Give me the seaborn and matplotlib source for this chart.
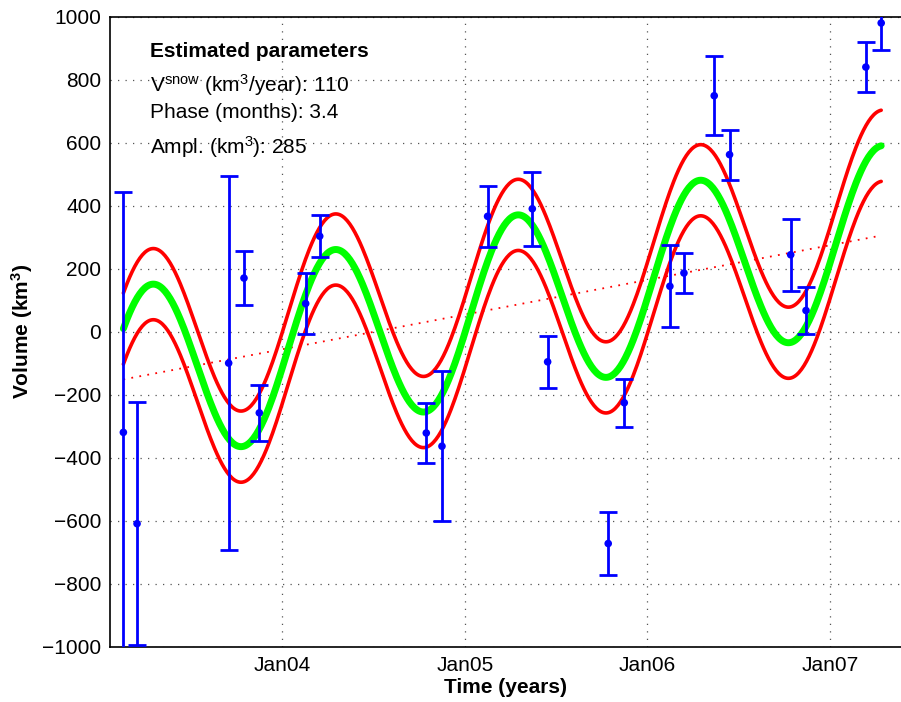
import numpy as np
import pandas as pd
import matplotlib
matplotlib.use("Agg")
import matplotlib.pyplot as plt
import seaborn as sns

# ---------------- data ----------------
obs_time = [2003.129, 2003.204, 2003.706, 2003.790, 2003.874, 2004.128, 2004.205,
            2004.789, 2004.875, 2005.125, 2005.370, 2005.454, 2005.786, 2005.874,
            2006.124, 2006.201, 2006.367, 2006.451, 2006.786, 2006.870, 2007.198,
            2007.282]
obs_volume = [-320, -610, -100, 170, -258, 89, 303,
              -322, -364, 366, 390, -96, -673, -226,
              144, 186, 749, 562, 244, 67, 840,
              980]
obs_error = [764, 385, 593, 87, 88, 96, 67,
             94, 239, 96, 117, 82, 99, 76,
             130, 63, 126, 79, 115, 76, 80,
             85]

# Estimated model parameters (shown on the chart)
V_SNOW = 110          # km3/year
PHASE_MONTHS = 3.4    # months
AMPL = 285            # km3
OFFSET_JAN05 = 54     # trend value at Jan05
BAND = 113            # half-width of red envelope

tick_years = [2004, 2005, 2006, 2007]
tick_labels = ["Jan04", "Jan05", "Jan06", "Jan07"]
y_ticks = list(range(-1000, 1001, 200))

# ---------------- model curves from the stated parameters ----------------
t = np.linspace(obs_time[0], obs_time[-1], 600)
trend = OFFSET_JAN05 + V_SNOW * (t - 2005.0)
fit = trend + AMPL * np.cos(2 * np.pi * (t - PHASE_MONTHS / 12.0))
curves = pd.DataFrame({"t": t, "trend": trend, "fit": fit,
                       "upper": fit + BAND, "lower": fit - BAND})
obs = pd.DataFrame({"t": obs_time, "v": obs_volume, "e": obs_error})

# ---------------- style ----------------
sns.set_theme(style="white")
plt.rcParams["font.family"] = ["Liberation Sans", "DejaVu Sans"]
plt.rcParams["mathtext.fontset"] = "custom"
plt.rcParams["mathtext.rm"] = "Liberation Sans"
plt.rcParams["mathtext.it"] = "Liberation Sans:italic"
plt.rcParams["mathtext.bf"] = "Liberation Sans:bold"
plt.rcParams["mathtext.default"] = "regular"
plt.rcParams["text.color"] = "black"
plt.rcParams["axes.labelcolor"] = "black"
plt.rcParams["xtick.color"] = "black"
plt.rcParams["ytick.color"] = "black"

FS = 15
fig = plt.figure(figsize=(9.01, 7.02), dpi=100)
W, H = 901, 702
left_px, right_px, top_px, bot_px = 109.5, 902.0, 16.7, 646.5
ax = fig.add_axes([left_px / W, 1 - bot_px / H, (right_px - left_px) / W,
                   (bot_px - top_px) / H])

sns.lineplot(data=curves, x="t", y="trend", ax=ax, color=(1, 0, 0),
             linewidth=1.3, linestyle=(0, (1, 3.5)), zorder=2)
sns.lineplot(data=curves, x="t", y="upper", ax=ax, color=(1, 0, 0),
             linewidth=2.6, zorder=3)
sns.lineplot(data=curves, x="t", y="lower", ax=ax, color=(1, 0, 0),
             linewidth=2.6, zorder=3)
sns.lineplot(data=curves, x="t", y="fit", ax=ax, color=(0, 1, 0),
             linewidth=5.0, zorder=4)

ax.errorbar(obs["t"], obs["v"], yerr=obs["e"], fmt="none", ecolor=(0, 0, 1),
            elinewidth=2.0, capsize=6.5, capthick=2.0, zorder=5)
sns.scatterplot(data=obs, x="t", y="v", ax=ax, color=(0, 0, 1), s=30,
                edgecolor="none", zorder=6)

ax.set_xlim(2003.053, 2007.396)
ax.set_ylim(-1000, 1000)
ax.set_xticks(tick_years)
ax.set_xticklabels(tick_labels)
ax.set_yticks(y_ticks)
ax.set_yticklabels([("\u2212" if v < 0 else "") + str(abs(v)) for v in y_ticks])
ax.tick_params(axis="both", direction="in", length=5, width=1.0,
               labelsize=FS, colors="black", top=False, right=False)
ax.tick_params(axis="x", pad=7)
ax.tick_params(axis="y", pad=6)
ax.grid(True, color="#555555", linestyle=(0, (1, 5)), linewidth=0.9)
ax.set_axisbelow(True)

for side in ["left", "bottom", "top", "right"]:
    ax.spines[side].set_color("black")
    ax.spines[side].set_linewidth(1.2)
    ax.spines[side].set_visible(True)

ax.set_xlabel("Time (years)", fontsize=FS, fontweight="bold", color="black")
ax.set_ylabel(r"Volume (km$\mathbf{^3}$)", fontsize=FS, fontweight="bold",
              color="black")
ax.xaxis.set_label_coords(0.5, -0.050)
ax.yaxis.set_label_coords(-0.094, 0.5)

tx = (150 - left_px) / (right_px - left_px)
def yfrac(px):
    return (bot_px - px) / (bot_px - top_px)

ax.text(tx, yfrac(57), "Estimated parameters", transform=ax.transAxes,
        fontsize=FS, fontweight="bold", va="baseline", ha="left", color="black")
ax.text(tx, yfrac(92), r"V$^{\mathregular{snow}}$ (km$^{\mathregular{3}}$/year): 110",
        transform=ax.transAxes, fontsize=FS, va="baseline", ha="left", color="black")
ax.text(tx, yfrac(118), "Phase (months): 3.4", transform=ax.transAxes,
        fontsize=FS, va="baseline", ha="left", color="black")
ax.text(tx, yfrac(154), r"Ampl. (km$^{\mathregular{3}}$): 285", transform=ax.transAxes,
        fontsize=FS, va="baseline", ha="left", color="black")

fig.savefig("out.png", dpi=100)
